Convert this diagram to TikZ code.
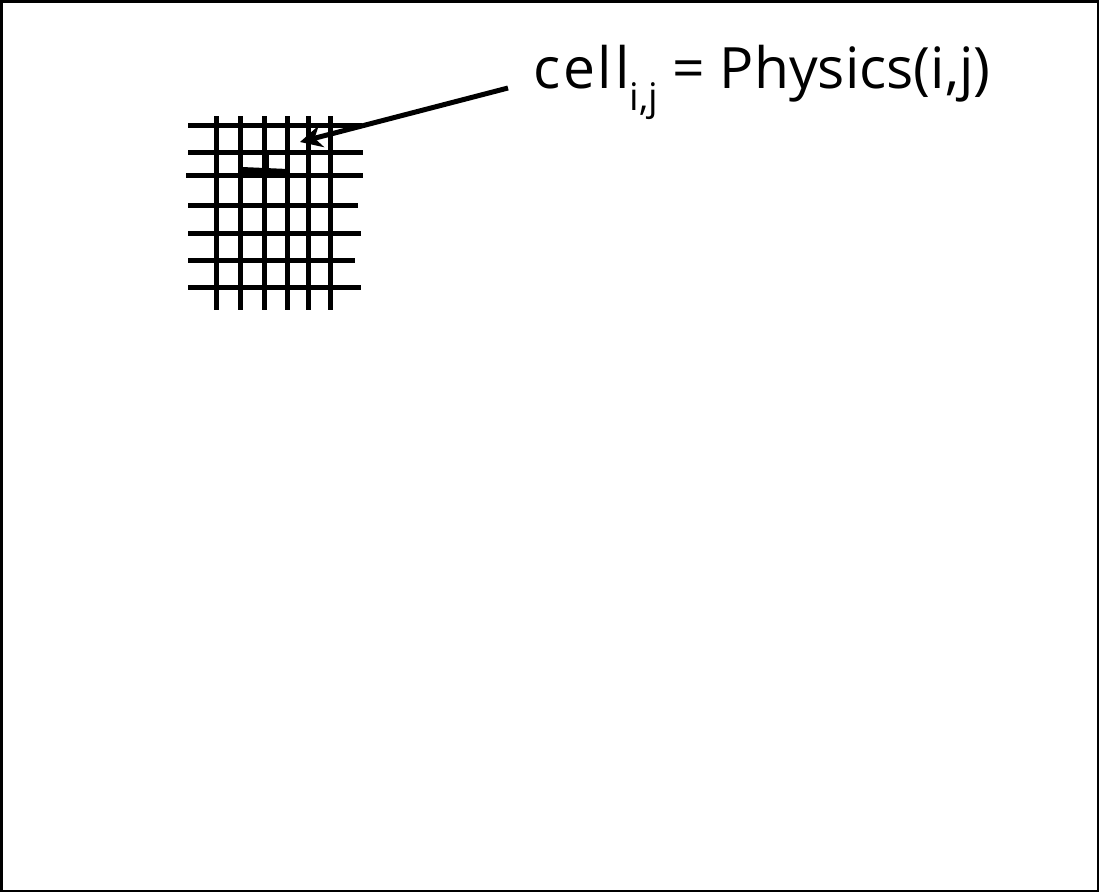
\documentclass[tikz,border=0pt]{standalone}
\usepackage{fontspec}
\setmainfont{Open Sans}
\usetikzlibrary{arrows.meta}
\begin{document}
\begin{tikzpicture}[x=1pt,y=-1pt,
  gridline/.style={line width=5pt,black},
  framebox/.style={line width=2.5pt,black},
  pointer/.style={line width=5pt,-{Stealth[length=22pt,width=22pt,inset=7pt]}},
  lbltext/.style={font=\fontsize{57}{64}\selectfont,inner sep=0pt,anchor=base west}]
\useasboundingbox (0,0) rectangle (1099,892);
\draw[framebox] (1.25,1.25) rectangle (1097.75,890.75);
% vertical lines
\foreach \x in {216,240,264,287,308,330}{
  \draw[gridline] (\x,116) -- (\x,310);
}
% horizontal lines
\foreach \y/\xa/\xb in {125/188/362,152/188/363,175/186/363,205/188/358,233/188/361,260/188/355,287/188/361}{
  \draw[gridline] (\xa,\y) -- (\xb,\y);
}
% highlighted cell mark
\draw[line width=6pt] (242,170) -- (288,172);
\draw[line width=7pt] (265,152) -- (265,172);
% label
\node[lbltext] (lbl) at (533,88) {{\addfontfeature{LetterSpace=5}cell}\raisebox{-0.4em}{\fontsize{38}{44}\selectfont i,j}\hspace{0.25em}= Physics(i,j)};
\coordinate (tail) at (508,88);
\coordinate (head) at (300,142);
\draw[pointer] (tail) -- (head);
\end{tikzpicture}
\end{document}
